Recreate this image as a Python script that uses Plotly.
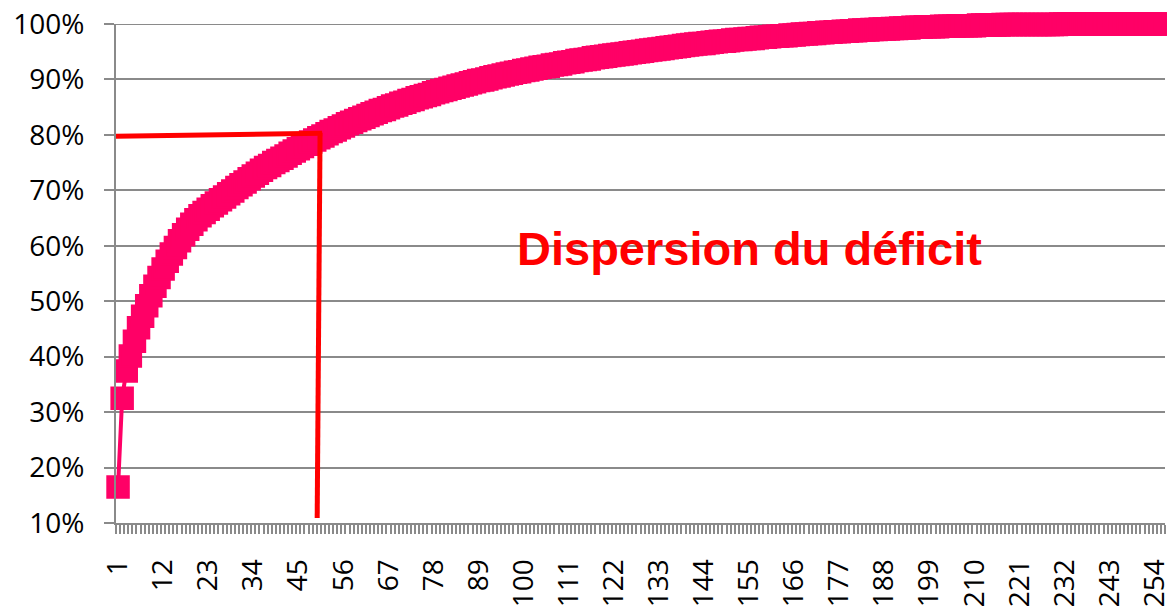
import plotly.graph_objects as go

# Category index (1..256) and cumulative share of the deficit (%)
categories = list(range(1, 257))
cumulative_pct = [
    16.5, 32.5, 37.4, 40.1, 42.8, 45.2, 47.3, 49.2, 51.0, 52.7, 54.3, 55.8, 57.2, 58.5, 59.7, 60.9,
    62.0, 63.0, 63.9, 64.7, 65.4, 66.0, 66.6, 67.2, 67.7, 68.3, 68.8, 69.4, 69.9, 70.5, 71.0, 71.5,
    72.1, 72.6, 73.1, 73.6, 74.1, 74.5, 75.0, 75.4, 75.8, 76.2, 76.7, 77.1, 77.5, 77.9, 78.3, 78.7,
    79.1, 79.5, 79.8, 80.2, 80.6, 80.9, 81.3, 81.6, 82.0, 82.3, 82.6, 82.9, 83.2, 83.5, 83.8, 84.1,
    84.4, 84.6, 84.9, 85.2, 85.4, 85.7, 85.9, 86.2, 86.4, 86.7, 86.9, 87.1, 87.3, 87.6, 87.8, 88.0,
    88.2, 88.4, 88.6, 88.8, 89.0, 89.2, 89.4, 89.6, 89.8, 89.9, 90.1, 90.3, 90.5, 90.6, 90.8, 91.0,
    91.1, 91.3, 91.4, 91.6, 91.7, 91.9, 92.0, 92.2, 92.3, 92.4, 92.6, 92.7, 92.8, 93.0, 93.1, 93.2,
    93.4, 93.5, 93.6, 93.7, 93.9, 94.0, 94.1, 94.2, 94.3, 94.4, 94.5, 94.6, 94.7, 94.8, 94.9, 95.0,
    95.1, 95.2, 95.3, 95.4, 95.5, 95.6, 95.7, 95.8, 95.9, 96.0, 96.1, 96.2, 96.3, 96.4, 96.5, 96.5,
    96.6, 96.7, 96.8, 96.9, 96.9, 97.0, 97.1, 97.2, 97.2, 97.3, 97.4, 97.4, 97.5, 97.6, 97.6, 97.7,
    97.8, 97.8, 97.9, 97.9, 98.0, 98.0, 98.1, 98.2, 98.2, 98.3, 98.3, 98.4, 98.4, 98.5, 98.5, 98.6,
    98.6, 98.7, 98.7, 98.8, 98.8, 98.9, 98.9, 98.9, 99.0, 99.0, 99.1, 99.1, 99.1, 99.2, 99.2, 99.3,
    99.3, 99.3, 99.4, 99.4, 99.4, 99.5, 99.5, 99.5, 99.5, 99.6, 99.6, 99.6, 99.6, 99.7, 99.7, 99.7,
    99.7, 99.7, 99.8, 99.8, 99.8, 99.8, 99.8, 99.8, 99.9, 99.9, 99.9, 99.9, 99.9, 99.9, 99.9, 99.9,
    99.9, 99.9, 99.9, 99.9, 99.9, 99.9, 100.0, 100.0, 100.0, 100.0, 100.0, 100.0, 100.0, 100.0, 100.0, 100.0,
    100.0, 100.0, 100.0, 100.0, 100.0, 100.0, 100.0, 100.0, 100.0, 100.0, 100.0, 100.0, 100.0, 100.0, 100.0, 100.0,
]
x_tick_values = list(range(1, 257, 11))
x_tick_labels = [str(v) for v in x_tick_values]
y_tick_values = [10, 20, 30, 40, 50, 60, 70, 80, 90, 100]
y_tick_labels = [f"{v}%" for v in y_tick_values]
annotation_text = "Dispersion du déficit"

GRAY = "#8a8a8a"
PINK = "#FF0066"
RED = "#FF0000"
FONT = "Open Sans"

X_MIN, X_MAX = 0.5, len(categories) + 0.5
Y_MIN, Y_MAX = y_tick_values[0], y_tick_values[-1]

fig = go.Figure()
# top gridline, drawn as an unclipped line under the series (plotly drops edge gridlines)
fig.add_trace(go.Scatter(
    x=[X_MIN, X_MAX], y=[Y_MAX, Y_MAX], mode="lines",
    line=dict(color=GRAY, width=2), cliponaxis=False, showlegend=False, hoverinfo="skip",
))
fig.add_trace(go.Scatter(
    x=categories, y=cumulative_pct, mode="lines+markers",
    line=dict(color=PINK, width=4),
    marker=dict(symbol="square", size=21, color=PINK, line=dict(color=PINK, width=2.5)),
    cliponaxis=False, showlegend=False, hoverinfo="skip",
))

# 80% threshold guide lines (hand-drawn in the original)
fig.add_shape(type="line", xref="x", yref="y", x0=0.5, y0=79.75, x1=50.8, y1=80.3,
              line=dict(color=RED, width=5), layer="above")
fig.add_shape(type="line", xref="x", yref="y", x0=50.3, y0=80.4, x1=49.6, y1=10.9,
              line=dict(color=RED, width=5), layer="above")

fig.add_annotation(x=155, y=59.6, xref="x", yref="y", text=annotation_text, showarrow=False,
                   xanchor="center", yanchor="middle",
                   font=dict(family="Liberation Sans", size=47, color=RED, weight="bold"))

# page body has an 8px margin, so the figure is sized to fit inside the window
fig.update_layout(
    width=1167, height=605,
    margin=dict(l=108, r=10, t=16, b=90, autoexpand=False),
    paper_bgcolor="white", plot_bgcolor="white",
    font=dict(family=FONT, color="black"),
)
fig.update_xaxes(
    automargin=False,
    range=[X_MIN, X_MAX], tickmode="array", tickvals=x_tick_values, ticktext=x_tick_labels,
    tickangle=-90, ticks="", showgrid=False, zeroline=False,
    showline=True, linecolor=GRAY, linewidth=2, ticklabeloverflow="allow",
    tickfont=dict(family=FONT, size=28, color="black"), ticklabelstandoff=23,
    minor=dict(ticks="outside", tickmode="linear", tick0=0.5, dtick=1, ticklen=9,
               tickwidth=1.5, tickcolor=GRAY, showgrid=False),
)
fig.update_yaxes(
    automargin=False,
    range=[Y_MIN, Y_MAX], tickmode="array", tickvals=y_tick_values, ticktext=y_tick_labels,
    showgrid=True, gridcolor=GRAY, gridwidth=2, zeroline=False,
    showline=True, linecolor=GRAY, linewidth=2, ticklabeloverflow="allow",
    ticks="outside", ticklen=10, tickwidth=2, tickcolor=GRAY,
    tickfont=dict(family=FONT, size=28, color="black"), ticklabelstandoff=14,
)

fig.write_html("out.html")
